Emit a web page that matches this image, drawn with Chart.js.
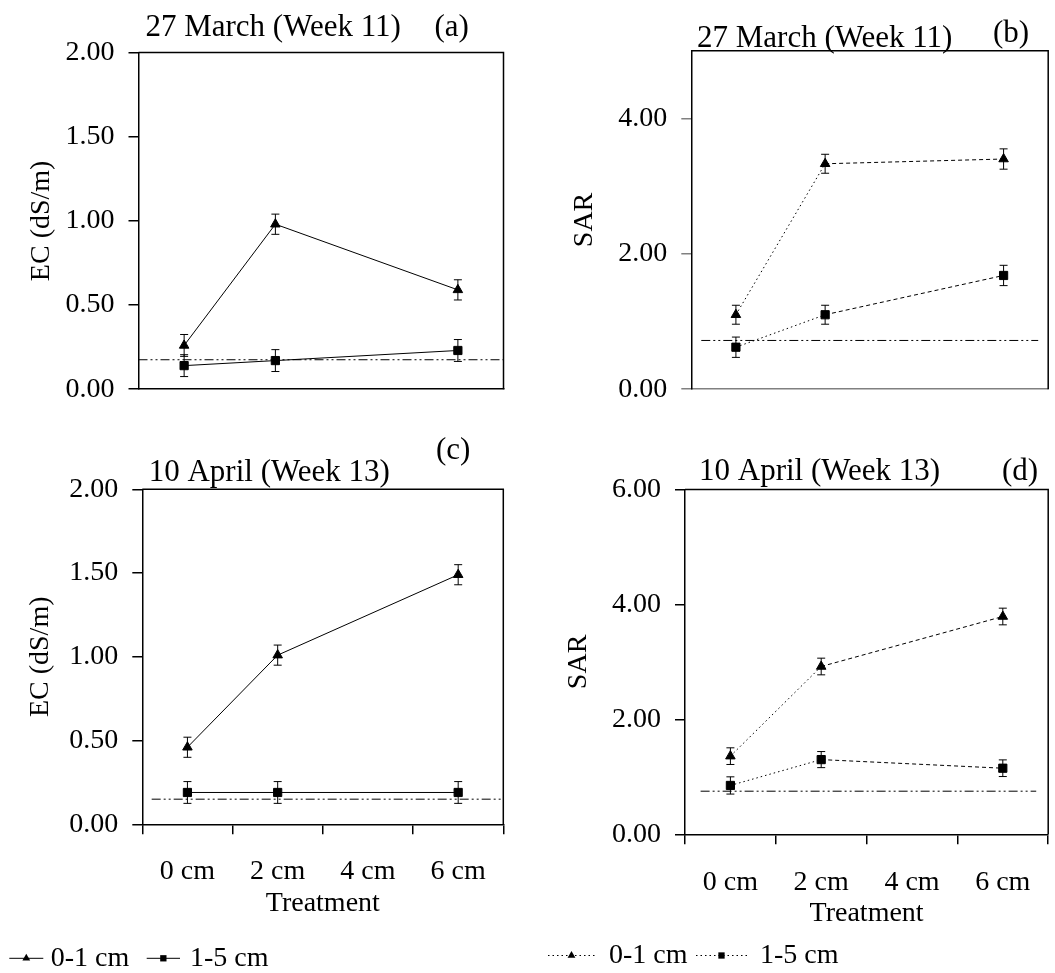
<!DOCTYPE html>
<html>
<head>
<meta charset="utf-8">
<title>EC and SAR by treatment</title>
<script src="https://cdn.jsdelivr.net/npm/chart.js@4.4.1/dist/chart.umd.min.js"></script>
<style>
  html, body { margin: 0; padding: 0; background: #fff; }
  body { width: 1055px; height: 973px; position: relative; overflow: hidden; }
  canvas { position: absolute; }
</style>
</head>
<body>
<canvas id="panelA" width="527" height="420" style="left:0;top:0"></canvas>
<canvas id="panelB" width="528" height="420" style="left:527px;top:0"></canvas>
<canvas id="panelC" width="527" height="553" style="left:0;top:420px"></canvas>
<canvas id="panelD" width="528" height="553" style="left:527px;top:420px"></canvas>
<script>
// Treatment categories (no sample at 4 cm)
const depths = ['0 cm', '2 cm', '4 cm', '6 cm'];
const layers = ['0-1 cm', '1-5 cm'];
const dates = ['27 March (Week 11)', '10 April (Week 13)'];
const tags = ['(a)', '(b)', '(c)', '(d)'];

// Week 11 EC (dS/m)
const ecWk11Top = [0.26, 0.98, null, 0.59];
const ecWk11TopErr = [0.065, 0.06, null, 0.06];
const ecWk11Sub = [0.14, 0.17, null, 0.23];
const ecWk11SubErr = [0.065, 0.065, null, 0.065];

// Week 11 SAR
const sarWk11Top = [1.10, 3.33, null, 3.40];
const sarWk11TopErr = [0.14, 0.14, null, 0.15];
const sarWk11Sub = [0.62, 1.10, null, 1.68];
const sarWk11SubErr = [0.15, 0.14, null, 0.15];

// Week 13 EC (dS/m)
const ecWk13Top = [0.46, 1.01, null, 1.49];
const ecWk13TopErr = [0.06, 0.06, null, 0.06];
const ecWk13Sub = [0.19, 0.19, null, 0.19];
const ecWk13SubErr = [0.065, 0.065, null, 0.065];

// Week 13 SAR
const sarWk13Top = [1.36, 2.92, null, 3.79];
const sarWk13TopErr = [0.145, 0.145, null, 0.145];
const sarWk13Sub = [0.85, 1.30, null, 1.15];
const sarWk13SubErr = [0.15, 0.14, null, 0.145];

// Irrigation water reference levels [week 11, week 13]
const ecRef = [0.175, 0.15];
const sarRef = [0.72, 0.75];

const FONT = '"Liberation Serif", "Times New Roman", Times, serif';
Chart.defaults.font.family = FONT;
Chart.defaults.color = '#000';
Chart.defaults.animation = false;

function drawMarker(ctx, style, x, y, r) {
  ctx.beginPath();
  if (style === 'triangle') {
    ctx.moveTo(x, y - r);
    ctx.lineTo(x + r * 0.866, y + r / 2);
    ctx.lineTo(x - r * 0.866, y + r / 2);
  } else {
    const h = r * 0.75;
    ctx.rect(x - h, y - h, 2 * h, 2 * h);
  }
  ctx.closePath();
  ctx.fill();
}

// vertical error bars with caps
const errorBars = {
  id: 'errorBars',
  afterDatasetsDraw(chart) {
    const { ctx } = chart;
    const yScale = chart.scales.y;
    ctx.save();
    ctx.strokeStyle = '#000';
    ctx.lineWidth = 1;
    ctx.setLineDash([]);
    chart.data.datasets.forEach((ds, i) => {
      const meta = chart.getDatasetMeta(i);
      ds.data.forEach((v, j) => {
        if (v == null) return;
        const e = ds.errors[j];
        const x = meta.data[j].x;
        const top = yScale.getPixelForValue(v + e);
        const bot = yScale.getPixelForValue(v - e);
        ctx.beginPath();
        ctx.moveTo(x, top); ctx.lineTo(x, bot);
        ctx.moveTo(x - 4, top); ctx.lineTo(x + 4, top);
        ctx.moveTo(x - 4, bot); ctx.lineTo(x + 4, bot);
        ctx.stroke();
      });
    });
    ctx.restore();
  }
};

// dash-dot-dot reference line
const refLine = {
  id: 'refLine',
  beforeDatasetsDraw(chart, args, opts) {
    if (opts.value == null) return;
    const { ctx, chartArea: a } = chart;
    const y = chart.scales.y.getPixelForValue(opts.value);
    const w = a.right - a.left;
    ctx.save();
    ctx.strokeStyle = '#000';
    ctx.lineWidth = 1;
    ctx.setLineDash([9, 3, 2, 3, 2, 3]);
    ctx.beginPath();
    ctx.moveTo(a.left + w * opts.from, y);
    ctx.lineTo(a.left + w * opts.to, y);
    ctx.stroke();
    ctx.restore();
  }
};

// top and right edges of the plot box
const frame = {
  id: 'frame',
  beforeDatasetsDraw(chart) {
    const { ctx, chartArea: a } = chart;
    ctx.save();
    ctx.strokeStyle = '#000';
    ctx.lineWidth = 1.5;
    ctx.beginPath();
    ctx.moveTo(a.left, a.top);
    ctx.lineTo(a.right, a.top);
    ctx.lineTo(a.right, a.bottom);
    ctx.stroke();
    ctx.restore();
  }
};

// date heading and panel letter
const panelText = {
  id: 'panelText',
  afterDraw(chart, args, opts) {
    const { ctx } = chart;
    ctx.save();
    ctx.fillStyle = '#000';
    ctx.font = '31px ' + FONT;
    ctx.textAlign = 'left';
    ctx.textBaseline = 'alphabetic';
    (opts.items || []).forEach(t => ctx.fillText(t.text, t.x, t.y));
    ctx.restore();
  }
};

// line + symbol key under each column
const legendRow = {
  id: 'legendRow',
  afterDraw(chart, args, opts) {
    if (!opts.items) return;
    const { ctx } = chart;
    ctx.save();
    ctx.fillStyle = '#000';
    ctx.strokeStyle = '#000';
    ctx.font = '28px ' + FONT;
    ctx.textAlign = 'left';
    ctx.textBaseline = 'alphabetic';
    opts.items.forEach(it => {
      const ds = chart.data.datasets[it.dataset];
      ctx.lineWidth = 1;
      ctx.setLineDash(opts.dash);
      ctx.beginPath();
      ctx.moveTo(it.x0, opts.lineY);
      ctx.lineTo(it.x1, opts.lineY);
      ctx.stroke();
      ctx.setLineDash([]);
      drawMarker(ctx, ds.pointStyle, (it.x0 + it.x1) / 2, opts.lineY, ds.pointStyle === 'triangle' ? 4.5 : 4.2);
      ctx.fillText(ds.label, it.tx, opts.baseline);
    });
    ctx.restore();
  }
};

function series(label, values, errors, marker, dashed) {
  const ds = {
    label: label,
    data: values,
    errors: errors,
    borderColor: '#000',
    backgroundColor: '#000',
    borderWidth: 1,
    pointStyle: marker,
    pointRadius: marker === 'triangle' ? 5.5 : 5.8,
    pointBackgroundColor: '#000',
    pointBorderColor: '#000',
    pointBorderWidth: 1,
    spanGaps: true,
    tension: 0,
    fill: false
  };
  if (dashed) {
    ds.segment = { borderDash: ctx => ctx.p0DataIndex === 0 ? [1.5, 3] : [4, 3] };
  }
  return ds;
}

function xAxis(showLabels, labelPad, lineColor) {
  return {
    type: 'category',
    offset: true,
    grid: { offset: true, drawOnChartArea: false, drawTicks: showLabels, tickLength: 10, color: '#000', lineWidth: 1.5 },
    border: { color: lineColor, width: 1.5 },
    ticks: { display: showLabels, padding: labelPad, font: { size: 28 }, maxRotation: 0, autoSkip: false },
    title: { display: showLabels, text: 'Treatment', font: { size: 28 }, padding: { top: 0, bottom: 3.5 } },
    afterFit: s => { s.height = showLabels ? 100 : 10; }
  };
}

function yAxis(max, step, title, width, titlePad, tickColor) {
  return {
    type: 'linear',
    min: 0,
    max: max,
    grid: { drawOnChartArea: false, tickLength: 10, color: tickColor, lineWidth: 1.5 },
    border: { color: '#000', width: 1.5 },
    ticks: { stepSize: step, includeBounds: false, padding: 14, font: { size: 28 }, callback: v => v.toFixed(2) },
    title: { display: true, text: title, font: { size: 28 }, padding: { top: titlePad, bottom: 0 } },
    afterFit: s => { s.width = width; }
  };
}

function makePanel(id, p) {
  return new Chart(document.getElementById(id), {
    type: 'line',
    data: { labels: depths, datasets: p.datasets },
    options: {
      responsive: false,
      events: [],
      layout: { padding: p.padding },
      plugins: {
        legend: { display: false },
        tooltip: { enabled: false },
        refLine: p.ref,
        panelText: { items: p.texts },
        legendRow: p.key || {}
      },
      scales: { x: p.x, y: p.y }
    },
    plugins: [frame, refLine, errorBars, panelText, legendRow]
  });
}

// (a) EC, week 11
makePanel('panelA', {
  datasets: [
    series(layers[0], ecWk11Top, ecWk11TopErr, 'triangle', false),
    series(layers[1], ecWk11Sub, ecWk11SubErr, 'rect', false)
  ],
  padding: { left: 0, top: 52.5, right: 23.5, bottom: 9 },
  ref: { value: ecRef[0], from: 0, to: 1 },
  texts: [{ text: dates[0], x: 145.4, y: 35.5 }, { text: tags[0], x: 434.4, y: 35.5 }],
  x: xAxis(false, 0, '#000'),
  y: yAxis(2, 0.5, 'EC (dS/m)', 138.5, 24.7, '#000')
});

// (b) SAR, week 11
makePanel('panelB', {
  datasets: [
    series(layers[0], sarWk11Top, sarWk11TopErr, 'triangle', true),
    series(layers[1], sarWk11Sub, sarWk11SubErr, 'rect', true)
  ],
  padding: { left: 0, top: 50.7, right: 0.5, bottom: 9.3 },
  ref: { value: sarRef[0], from: 0.028, to: 0.972 },
  texts: [{ text: dates[0], x: 170, y: 47.3 }, { text: tags[1], x: 466, y: 42 }],
  x: xAxis(false, 0, '#808080'),
  y: yAxis(5, 2, 'SAR', 164.3, 40.7, '#808080')
});

// (c) EC, week 13
makePanel('panelC', {
  datasets: [
    series(layers[0], ecWk13Top, ecWk13TopErr, 'triangle', false),
    series(layers[1], ecWk13Sub, ecWk13SubErr, 'rect', false)
  ],
  padding: { left: 0, top: 69.3, right: 23.7, bottom: 48.7 },
  ref: { value: ecRef[1], from: 0.026, to: 1 },
  texts: [{ text: dates[1], x: 148.7, y: 60.9 }, { text: tags[2], x: 436, y: 39 }],
  key: {
    dash: [], lineY: 538.3, baseline: 545.7,
    items: [{ dataset: 0, x0: 9.3, x1: 43.3, tx: 50.7 }, { dataset: 1, x0: 146.7, x1: 180, tx: 190 }]
  },
  x: xAxis(true, 20.9, '#000'),
  y: yAxis(2, 0.5, 'EC (dS/m)', 142.3, 23.7, '#000')
});

// (d) SAR, week 13
makePanel('panelD', {
  datasets: [
    series(layers[0], sarWk13Top, sarWk13TopErr, 'triangle', true),
    series(layers[1], sarWk13Sub, sarWk13SubErr, 'rect', true)
  ],
  padding: { left: 0, top: 69.5, right: 3.3, bottom: 38.7 },
  ref: { value: sarRef[1], from: 0.043, to: 0.967 },
  texts: [{ text: dates[1], x: 172, y: 60.3 }, { text: tags[3], x: 475, y: 60 }],
  key: {
    dash: [1.5, 3], lineY: 535.5, baseline: 543,
    items: [{ dataset: 0, x0: 21, x1: 68, tx: 82 }, { dataset: 1, x0: 169, x1: 220, tx: 233 }]
  },
  x: xAxis(true, 21.9, '#000'),
  y: yAxis(6, 2, 'SAR', 158, 34.7, '#000')
});
</script>
</body>
</html>
